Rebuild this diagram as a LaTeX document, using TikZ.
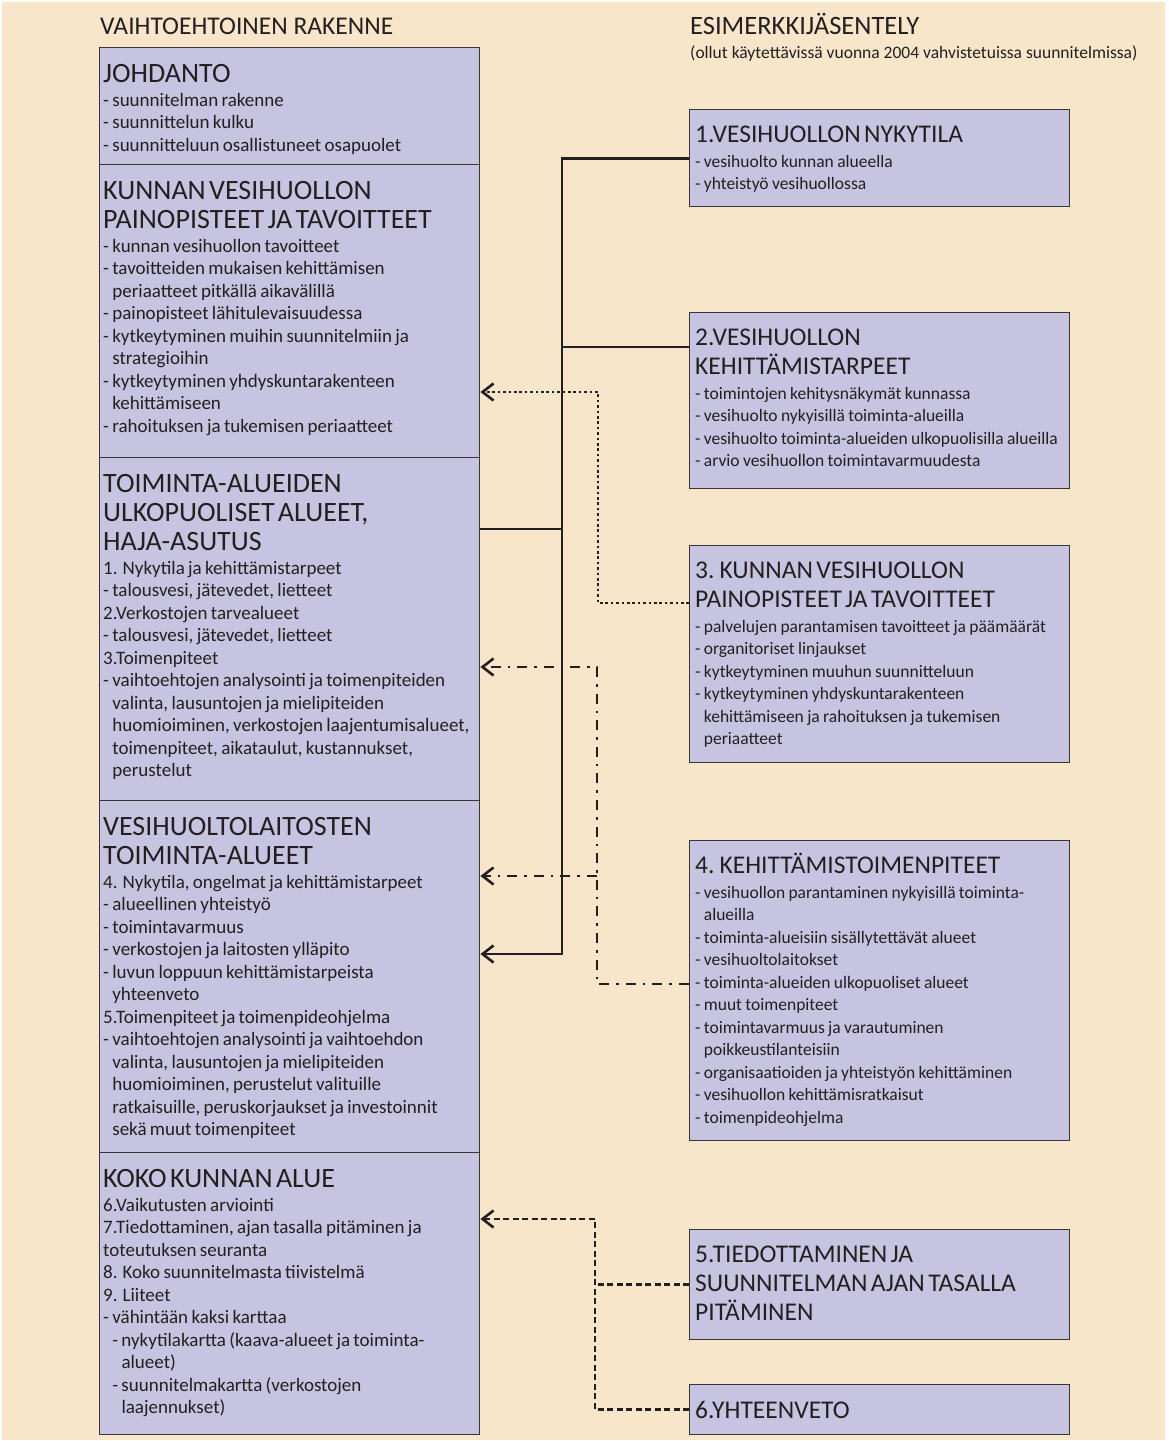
\documentclass[tikz,border=0pt]{standalone}
\usepackage{fontspec}
\setmainfont{Carlito}
\usetikzlibrary{positioning,arrows.meta}
\definecolor{paper}{HTML}{F8E6CB}
\definecolor{lilac}{HTML}{C7C4E1}
\definecolor{ink}{HTML}{231F20}
\setlength{\parindent}{0pt}
\setlength{\parskip}{0pt}
\newcommand{\ttl}{\fontsize{28}{29}\selectfont}
\newcommand{\rttl}{\fontsize{25.5}{29}\selectfont}
\newcommand{\itm}{\fontsize{19}{22.5}\selectfont}
\newcommand{\ritm}{\fontsize{17.5}{22.5}\selectfont}
\newcommand{\topstrut}{\rule{0pt}{24pt}}
\newcommand{\dind}{\leavevmode\hphantom{- }}
\begin{document}
\begin{tikzpicture}[x=1pt,y=-1pt,
  box/.style={draw=ink!90,line width=1.4pt,fill=lilac,anchor=north west,inner sep=0pt,minimum width=380pt},
  txt/.style={anchor=north west,inner sep=0pt,text width=420pt,align=left,text=ink},
  head/.style={anchor=base west,inner sep=0pt,text=ink},
  conn/.style={draw=ink,line width=2.6pt},
  tip/.style={-{Straight Barb[length=11pt,width=17pt]}},
  dotline/.style={dash pattern=on 2.6pt off 2.8pt},
  dashdotline/.style={dash pattern=on 10pt off 7pt on 2.6pt off 7pt},
  dashline/.style={dash pattern=on 6pt off 3.5pt}]
\useasboundingbox (0,0) rectangle (1169,1441);
\fill[paper] (2,2) rectangle (1165,1440);

\node[head,font=\fontsize{25.5}{28}\selectfont] (leftHead) at (100,34) {VAIHTOEHTOINEN RAKENNE};
\node[head,font=\fontsize{26.5}{28}\selectfont] (rightHead) at (690,34) {ESIMERKKIJÄSENTELY};
\node[head,font=\fontsize{17.5}{20}\selectfont] (rightSub) at (690,58) {(ollut käytettävissä vuonna 2004 vahvistetuissa suunnitelmissa)};

% vasen sarake
\node[box,minimum height=117pt] (johdanto) at (99,47) {};
\node[box,minimum height=293pt] (kunnan) at (99,164) {};
\node[box,minimum height=343pt] (toim) at (99,457) {};
\node[box,minimum height=352pt] (vesi) at (99,800) {};
\node[box,minimum height=282pt] (koko) at (99,1152) {};

\node[txt,below right=11pt and 4pt of johdanto.north west] (johdantoT) {\ttl\topstrut JOHDANTO\par\vspace{1.5pt}
\itm - suunnitelman rakenne\\
- suunnittelun kulku\\
- suunnitteluun osallistuneet osapuolet\par};

\node[txt,below right=11pt and 4pt of kunnan.north west] (kunnanT) {\ttl\topstrut KUNNAN VESIHUOLLON\\PAINOPISTEET JA TAVOITTEET\par\vspace{1.5pt}
\itm - kunnan vesihuollon tavoitteet\\
- tavoitteiden mukaisen kehittämisen\\
\dind periaatteet pitkällä aikavälillä\\
- painopisteet lähitulevaisuudessa\\
- kytkeytyminen muihin suunnitelmiin ja\\
\dind strategioihin\\
- kytkeytyminen yhdyskuntarakenteen\\
\dind kehittämiseen\\
- rahoituksen ja tukemisen periaatteet\par};

\node[txt,below right=11pt and 4pt of toim.north west] (toimT) {\ttl\topstrut TOIMINTA-ALUEIDEN\\ULKOPUOLISET ALUEET,\\HAJA-ASUTUS\par\vspace{1.5pt}
\itm 1. Nykytila ja kehittämistarpeet\\
- talousvesi, jätevedet, lietteet\\
2.Verkostojen tarvealueet\\
- talousvesi, jätevedet, lietteet\\
3.Toimenpiteet\\
- vaihtoehtojen analysointi ja toimenpiteiden\\
\dind valinta, lausuntojen ja mielipiteiden\\
\dind huomioiminen, verkostojen laajentumisalueet,\\
\dind toimenpiteet, aikataulut, kustannukset,\\
\dind perustelut\par};

\node[txt,below right=11pt and 4pt of vesi.north west] (vesiT) {\ttl\topstrut VESIHUOLTOLAITOSTEN\\TOIMINTA-ALUEET\par\vspace{1.5pt}
\itm 4. Nykytila, ongelmat ja kehittämistarpeet\\
- alueellinen yhteistyö\\
- toimintavarmuus\\
- verkostojen ja laitosten ylläpito\\
- luvun loppuun kehittämistarpeista\\
\dind yhteenveto\\
5.Toimenpiteet ja toimenpideohjelma\\
- vaihtoehtojen analysointi ja vaihtoehdon\\
\dind valinta, lausuntojen ja mielipiteiden\\
\dind huomioiminen, perustelut valituille\\
\dind ratkaisuille, peruskorjaukset ja investoinnit\\
\dind sekä muut toimenpiteet\par};

\node[txt,below right=11pt and 4pt of koko.north west] (kokoT) {\ttl\topstrut KOKO KUNNAN ALUE\par\vspace{1.5pt}
\itm 6.Vaikutusten arviointi\\
7.Tiedottaminen, ajan tasalla pitäminen ja\\
toteutuksen seuranta\\
8. Koko suunnitelmasta tiivistelmä\\
9. Liiteet\\
- vähintään kaksi karttaa\\
\dind - nykytilakartta (kaava-alueet ja toiminta-\\
\dind\dind alueet)\\
\dind - suunnitelmakartta (verkostojen\\
\dind\dind laajennukset)\par};

% oikea sarake
\node[box,minimum height=97pt] (nyky) at (689,109) {};
\node[box,minimum height=176pt] (tarve) at (689,312) {};
\node[box,minimum height=217pt] (paino) at (689,545) {};
\node[box,minimum height=300pt] (kehit) at (689,840) {};
\node[box,minimum height=110pt] (tiedo) at (689,1229) {};
\node[box,minimum height=50pt] (yht) at (689,1384) {};

\node[txt,below right=9pt and 6pt of nyky.north west] (nykyT) {\rttl\topstrut 1.VESIHUOLLON NYKYTILA\par\vspace{2.5pt}
\ritm - vesihuolto kunnan alueella\\
- yhteistyö vesihuollossa\par};

\node[txt,below right=9pt and 6pt of tarve.north west] (tarveT) {\rttl\topstrut 2.VESIHUOLLON\\KEHITTÄMISTARPEET\par\vspace{2.5pt}
\ritm - toimintojen kehitysnäkymät kunnassa\\
- vesihuolto nykyisillä toiminta-alueilla\\
- vesihuolto toiminta-alueiden ulkopuolisilla alueilla\\
- arvio vesihuollon toimintavarmuudesta\par};

\node[txt,below right=9pt and 6pt of paino.north west] (painoT) {\rttl\topstrut 3. KUNNAN VESIHUOLLON\\PAINOPISTEET JA TAVOITTEET\par\vspace{2.5pt}
\ritm - palvelujen parantamisen tavoitteet ja päämäärät\\
- organitoriset linjaukset\\
- kytkeytyminen muuhun suunnitteluun\\
- kytkeytyminen yhdyskuntarakenteen\\
\dind kehittämiseen ja rahoituksen ja tukemisen\\
\dind periaatteet\par};

\node[txt,below right=9pt and 6pt of kehit.north west] (kehitT) {\rttl\topstrut 4. KEHITTÄMISTOIMENPITEET\par\vspace{2.5pt}
\ritm - vesihuollon parantaminen nykyisillä toiminta-\\
\dind alueilla\\
- toiminta-alueisiin sisällytettävät alueet\\
- vesihuoltolaitokset\\
- toiminta-alueiden ulkopuoliset alueet\\
- muut toimenpiteet\\
- toimintavarmuus ja varautuminen\\
\dind poikkeustilanteisiin\\
- organisaatioiden ja yhteistyön kehittäminen\\
- vesihuollon kehittämisratkaisut\\
- toimenpideohjelma\par};

\node[txt,below right=9pt and 6pt of tiedo.north west] (tiedoT) {\rttl\topstrut 5.TIEDOTTAMINEN JA\\SUUNNITELMAN AJAN TASALLA\\PITÄMINEN\par};

\node[txt,below right=10pt and 6pt of yht.north west] (yhtT) {\rttl\topstrut 6.YHTEENVETO\par};

% yhteydet
\coordinate (jBot) at (562,954);
\coordinate (j2) at (562,347);
\coordinate (j3) at (562,529);
\draw[conn,tip] (nyky.west) -| (jBot) -- (vesi.east |- jBot);
\draw[conn] (tarve.west |- j2) -- (j2);
\draw[conn] (toim.east |- j3) -- (j3);

\coordinate (d1) at (598,603);
\coordinate (d2) at (598,392);
\draw[conn,dotline,tip] (paino.west |- d1) -- (d1) -- (d2) -- (kunnan.east |- d2);

\coordinate (e1) at (597,984);
\coordinate (e2) at (597,667);
\coordinate (e3) at (597,876);
\draw[conn,dashdotline,tip] (kehit.west |- e1) -- (e1) -- (e2) -- (toim.east |- e2);
\draw[conn,dashdotline,tip] (e3) -- (vesi.east |- e3);

\coordinate (f1) at (595,1219);
\draw[conn,dashline,tip] (yht.west) -| (f1) -- (koko.east |- f1);
\draw[conn,dashline] (tiedo.west) -- (tiedo.west -| f1);
\end{tikzpicture}
\end{document}
